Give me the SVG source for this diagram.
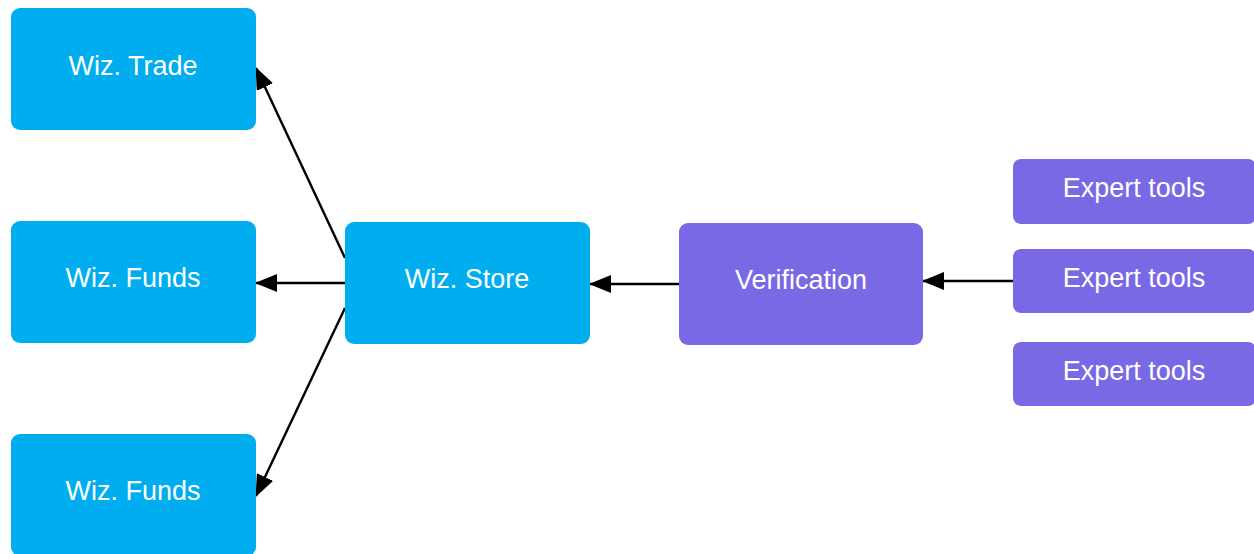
<svg xmlns="http://www.w3.org/2000/svg" width="1254" height="554" viewBox="0 0 1254 554">
<style>
.blue{fill:#00AEEF}
.purple{fill:#7A69E4}
.lbl{font-family:"Liberation Sans",Arial,sans-serif;font-size:27px;fill:#ffffff;text-anchor:middle;dominant-baseline:central}
.edge{stroke:#000;stroke-width:2.4;fill:none;marker-end:url(#ah)}
</style>
<defs>
<marker id="ah" viewBox="0 0 22 18" refX="21" refY="9" markerWidth="22" markerHeight="18" markerUnits="userSpaceOnUse" orient="auto">
<path d="M0,0 L22,9 L0,18 Z" fill="#000"/>
</marker>
</defs>
<rect width="1254" height="554" fill="#fff"/>
<g id="connectors">
<line class="edge" x1="345" y1="258" x2="256" y2="68"/>
<line class="edge" x1="345" y1="283" x2="256" y2="283"/>
<line class="edge" x1="345" y1="308" x2="256" y2="496"/>
<line class="edge" x1="679" y1="284" x2="590" y2="284"/>
<line class="edge" x1="1013" y1="281" x2="923" y2="281"/>
</g>
<g id="trade"><rect class="blue" x="11" y="8" width="245" height="122" rx="9"/><text class="lbl" x="133" y="66">Wiz. Trade</text></g>
<g id="funds1"><rect class="blue" x="11" y="221" width="245" height="122" rx="9"/><text class="lbl" x="133" y="278">Wiz. Funds</text></g>
<g id="funds2"><rect class="blue" x="11" y="434" width="245" height="122" rx="9"/><text class="lbl" x="133" y="491">Wiz. Funds</text></g>
<g id="store"><rect class="blue" x="345" y="222" width="245" height="122" rx="9"/><text class="lbl" x="467" y="279">Wiz. Store</text></g>
<g id="verification"><rect class="purple" x="679" y="223" width="244" height="122" rx="9"/><text class="lbl" x="801" y="280">Verification</text></g>
<g id="expert1"><rect class="purple" x="1013" y="159" width="243" height="65" rx="8"/><text class="lbl" x="1134" y="188">Expert tools</text></g>
<g id="expert2"><rect class="purple" x="1013" y="249" width="243" height="64" rx="8"/><text class="lbl" x="1134" y="278">Expert tools</text></g>
<g id="expert3"><rect class="purple" x="1013" y="342" width="243" height="64" rx="8"/><text class="lbl" x="1134" y="371">Expert tools</text></g>
</svg>
